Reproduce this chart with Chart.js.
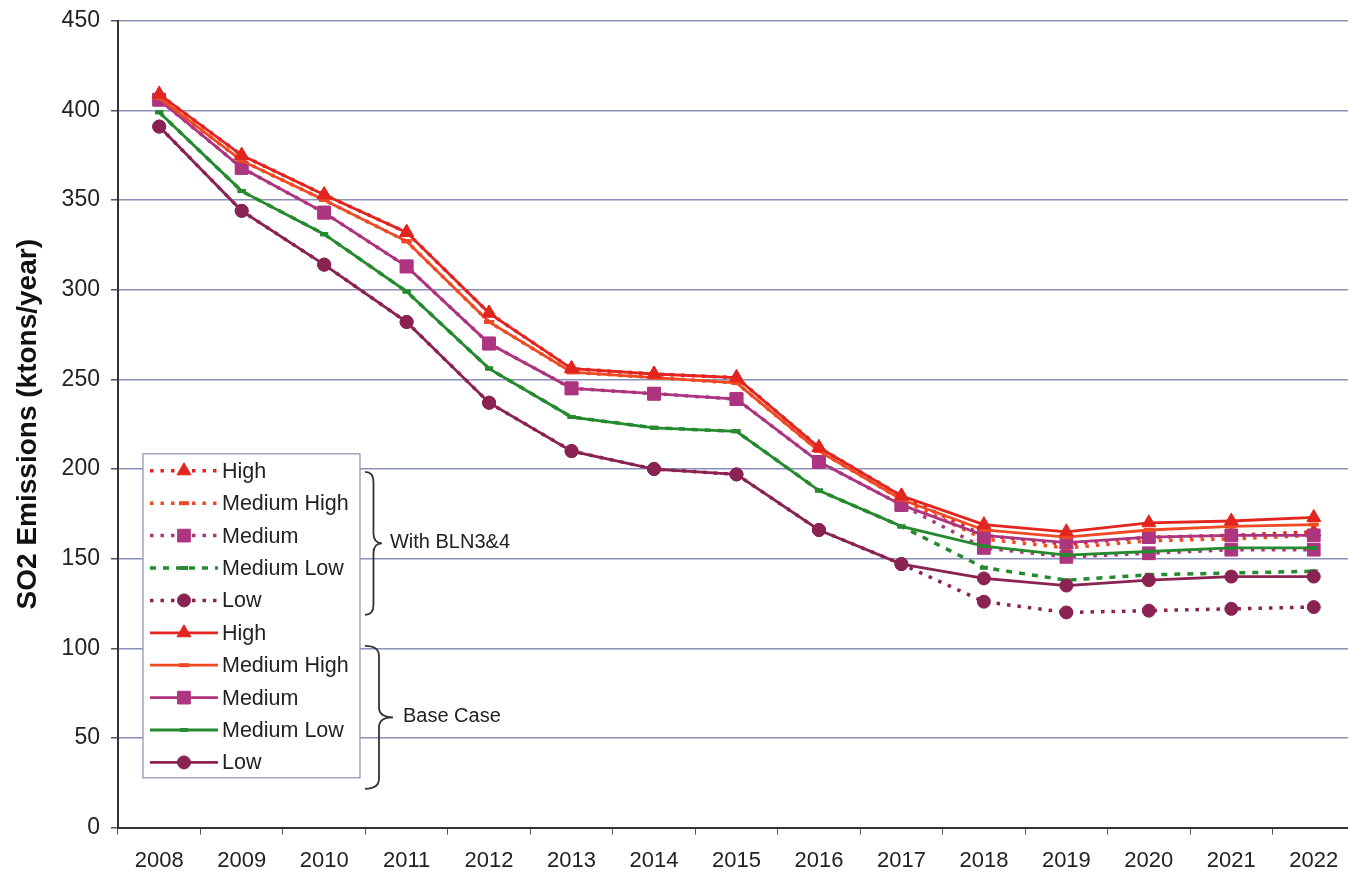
<!DOCTYPE html>
<html>
<head>
<meta charset="utf-8">
<script src="https://cdn.jsdelivr.net/npm/chart.js@4.4.0/dist/chart.umd.min.js"></script>
<style>
  html, body { margin: 0; padding: 0; background: #fff; overflow: hidden; }
  #wrap { position: relative; width: 1348px; height: 876px; overflow: hidden; }
  canvas { display: block; margin-top: -4px; }
</style>
</head>
<body>
<div id="wrap"><canvas id="so2-chart" width="1365" height="893"></canvas></div>
<script>
// categories
const years = ['2008', '2009', '2010', '2011', '2012', '2013', '2014', '2015',
               '2016', '2017', '2018', '2019', '2020', '2021', '2022'];

// Base Case series (ktons/year)
const highBase    = [409, 375, 353, 332, 287, 256, 253, 251, 212, 185, 169, 165, 170, 171, 173];
const medHighBase = [407, 372, 350, 327, 282, 254, 251, 248, 210, 183, 166, 162, 166, 168, 169];
const mediumBase  = [406, 368, 343, 313, 270, 245, 242, 239, 204, 180, 163, 159, 162, 163, 163];
const medLowBase  = [399, 355, 331, 299, 256, 229, 223, 221, 188, 168, 157, 152, 154, 156, 156];
const lowBase     = [391, 344, 314, 282, 237, 210, 200, 197, 166, 147, 139, 135, 138, 140, 140];

// With BLN3&4 series (same as base through 2017)
const highBln     = [409, 375, 353, 332, 287, 256, 253, 251, 212, 185, 163, 158, 162, 163, 165];
const medHighBln  = [407, 372, 350, 327, 282, 254, 251, 248, 210, 183, 161, 156, 160, 161, 163];
const mediumBln   = [406, 368, 343, 313, 270, 245, 242, 239, 204, 180, 156, 151, 153, 155, 155];
const medLowBln   = [399, 355, 331, 299, 256, 229, 223, 221, 188, 168, 145, 138, 141, 142, 143];
const lowBln      = [391, 344, 314, 282, 237, 210, 200, 197, 166, 147, 126, 120, 121, 122, 123];

// y ticks
const yMin = 0, yMax = 450, yStep = 50;

const RED = '#e3241f', ORANGE = '#ef4a23', MAGENTA = '#ad3580', GREEN = '#258a2e', MAROON = '#8a2352';
const FONT = '"Liberation Sans", Arial, sans-serif';

function series(label, data, color, style, radius, dotted, group) {
    return {
        label: label,
        data: data,
        group: group,
        borderColor: color,
        backgroundColor: color,
        borderWidth: dotted ? 3.5 : 2.8,
        borderDash: dotted ? (color === GREEN ? [6, 7] : [3.5, 7]) : [],
        pointStyle: style,
        pointRadius: radius,
        pointBorderWidth: style === 'line' ? 4 : 1,
        pointBackgroundColor: color,
        pointBorderColor: color,
        pointHoverRadius: radius,
        tension: 0,
        fill: false,
        order: dotted ? 1 : 0
    };
}

const datasets = [
    series('High', highBln, RED, 'triangle', 8, true, 'bln'),
    series('Medium High', medHighBln, ORANGE, 'line', 5, true, 'bln'),
    series('Medium', mediumBln, MAGENTA, 'rect', 9, true, 'bln'),
    series('Medium Low', medLowBln, GREEN, 'line', 4, true, 'bln'),
    series('Low', lowBln, MAROON, 'circle', 6.5, true, 'bln'),
    series('High', highBase, RED, 'triangle', 8, false, 'base'),
    series('Medium High', medHighBase, ORANGE, 'line', 5, false, 'base'),
    series('Medium', mediumBase, MAGENTA, 'rect', 9, false, 'base'),
    series('Medium Low', medLowBase, GREEN, 'line', 4, false, 'base'),
    series('Low', lowBase, MAROON, 'circle', 6.5, false, 'base')
];

// Legend box with braces drawn inside the plot area
const boxLegend = {
    id: 'boxLegend',
    afterDraw(chart) {
        const ctx = chart.ctx;
        const area = chart.chartArea;
        const left = area.left + 25;
        const top = area.top + 433;
        const w = 217, rowH = 32.4;
        const h = rowH * datasets.length;
        ctx.save();
        ctx.fillStyle = '#fff';
        ctx.fillRect(left, top, w, h);
        ctx.strokeStyle = '#8a90b4';
        ctx.lineWidth = 1.2;
        ctx.strokeRect(left, top, w, h);

        ctx.font = '21.5px ' + FONT;
        ctx.textBaseline = 'middle';
        datasets.forEach((ds, i) => {
            const y = top + 17 + i * rowH;
            const x0 = left + 7, x1 = left + 75, xm = (x0 + x1) / 2;
            ctx.strokeStyle = ds.borderColor;
            ctx.lineWidth = ds.borderWidth;
            ctx.setLineDash(ds.borderDash);
            ctx.beginPath();
            ctx.moveTo(x0, y);
            ctx.lineTo(x1, y);
            ctx.stroke();
            ctx.setLineDash([]);
            ctx.fillStyle = ds.borderColor;
            ctx.strokeStyle = ds.borderColor;
            ctx.lineWidth = ds.pointBorderWidth;
            Chart.helpers.drawPoint(ctx, {
                pointStyle: ds.pointStyle,
                radius: ds.pointRadius,
                borderWidth: ds.pointBorderWidth
            }, xm, y);
            ctx.fillStyle = '#222';
            ctx.fillText(ds.label, x1 + 4, y + 1);
        });

        // braces
        const brace = (x, yTop, yBot, width) => {
            const xm = x + width / 2, ymid = (yTop + yBot) / 2, r = 10;
            ctx.beginPath();
            ctx.moveTo(x, yTop);
            ctx.quadraticCurveTo(xm, yTop, xm, yTop + r);
            ctx.lineTo(xm, ymid - r);
            ctx.quadraticCurveTo(xm, ymid, x + width, ymid);
            ctx.quadraticCurveTo(xm, ymid, xm, ymid + r);
            ctx.lineTo(xm, yBot - r);
            ctx.quadraticCurveTo(xm, yBot, x, yBot);
            ctx.stroke();
        };
        ctx.strokeStyle = '#333';
        ctx.lineWidth = 1.8;
        const bx = left + w + 5;
        brace(bx, top + 18, top + 161, 17);
        brace(bx, top + 192, top + 335, 28);
        ctx.fillStyle = '#222';
        ctx.font = '20px ' + FONT;
        ctx.fillText('With BLN3&4', bx + 25, top + 89);
        ctx.fillText('Base Case', bx + 38, top + 263);
        ctx.restore();
    }
};

const ctx = document.getElementById('so2-chart').getContext('2d');
new Chart(ctx, {
    type: 'line',
    data: { labels: years, datasets: datasets },
    options: {
        responsive: false,
        animation: false,
        devicePixelRatio: 1,
        layout: { padding: { top: 9, right: 0, bottom: 2, left: 11 } },
        plugins: {
            legend: { display: false },
            tooltip: { enabled: false }
        },
        scales: {
            x: {
                offset: true,
                border: { display: true, color: '#333', width: 2 },
                grid: {
                    offset: true,
                    drawOnChartArea: false,
                    drawTicks: true,
                    tickLength: 7,
                    color: '#555'
                },
                ticks: {
                    color: '#222',
                    padding: 13,
                    maxRotation: 0,
                    autoSkip: false,
                    font: { family: FONT, size: 22 }
                }
            },
            y: {
                min: yMin,
                max: yMax,
                border: { display: true, color: '#333', width: 2 },
                grid: {
                    color: '#8a90b8',
                    lineWidth: 1.5,
                    drawTicks: true,
                    tickLength: 7,
                    tickColor: '#555'
                },
                ticks: {
                    stepSize: yStep,
                    color: '#222',
                    padding: 11,
                    font: { family: FONT, size: 23 }
                },
                title: {
                    display: true,
                    text: 'SO2 Emissions (ktons/year)',
                    color: '#111',
                    padding: { top: 0, bottom: 6 },
                    font: { family: FONT, size: 28, weight: 'bold' }
                }
            }
        }
    },
    plugins: [boxLegend]
});
</script>
</body>
</html>
